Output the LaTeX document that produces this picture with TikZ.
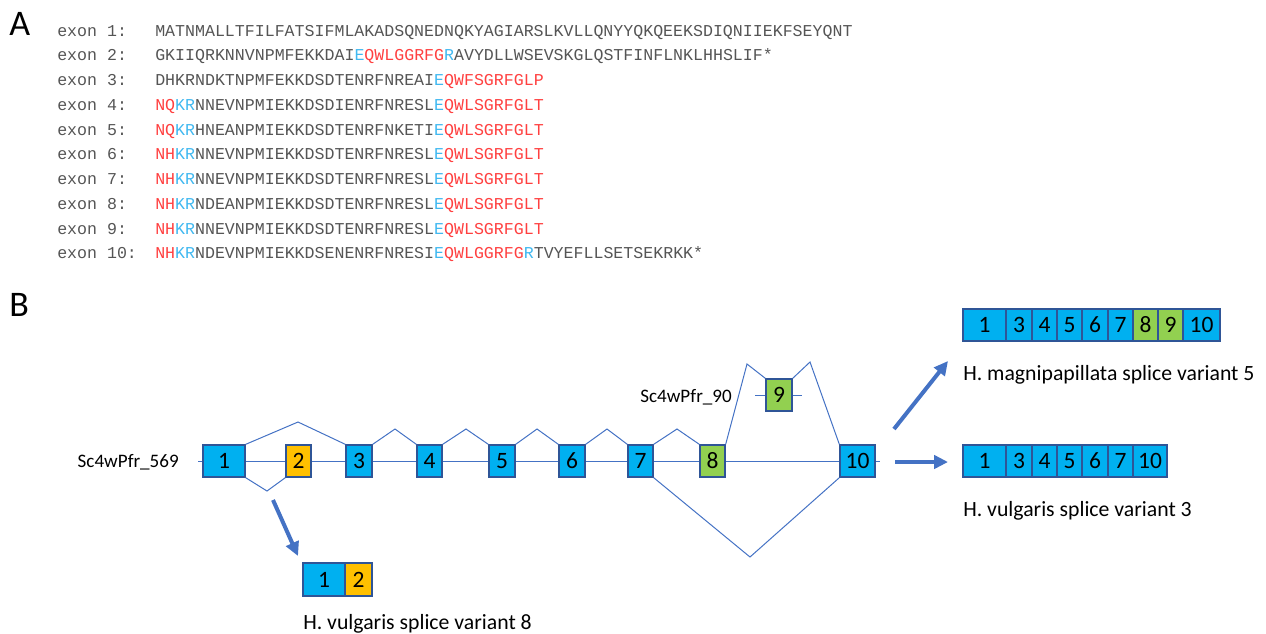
\documentclass[tikz,border=0pt]{standalone}
\usepackage{fontspec}
\setmainfont{Carlito}
\setmonofont{Liberation Mono}
\usetikzlibrary{arrows.meta}
\definecolor{seqgray}{HTML}{555555}
\definecolor{seqred}{HTML}{FF4040}
\definecolor{seqblue}{HTML}{40B8F0}
\definecolor{exblue}{HTML}{00B0F0}
\definecolor{exorange}{HTML}{FFC000}
\definecolor{exgreen}{HTML}{92D050}
\definecolor{exborder}{HTML}{2F5597}
\definecolor{linkblue}{HTML}{4472C4}
\newcommand\redseq[1]{\textcolor{seqred}{#1}}
\newcommand\blueseq[1]{\textcolor{seqblue}{#1}}
\newcommand\exbox[7]{\node[exon,fill=#6,minimum width={(#3-#2)*0.75pt},minimum height={(#5-#4)*0.75pt}] (#1) at ({(#2+#3)/2},{(#4+#5)/2}) {#7};}
\begin{document}
\begin{tikzpicture}[x=0.75pt,y=-0.75pt,
  seqlabel/.style={anchor=base west,inner sep=0pt,font=\ttfamily\fontsize{12.45}{14}\selectfont,text=seqgray},
  panel/.style={anchor=base west,inner sep=0pt,font=\fontsize{27}{30}\selectfont},
  exon/.style={draw=exborder,line width=1pt,inner sep=0pt,font=\fontsize{17.6}{20}\selectfont,text=black},
  caption/.style={anchor=base west,inner sep=0pt,font=\fontsize{16.3}{18}\selectfont},
  gene/.style={anchor=base east,inner sep=0pt,font=\fontsize{14.3}{16}\selectfont},
  intron/.style={draw=linkblue,line width=0.75pt},
  bigarrow/.style={draw=linkblue,line width=3pt,-{Triangle[length=10.5pt,width=10pt]}}]
\useasboundingbox (0,0) rectangle (1266,633);
% Panel A
\node[panel] (pA) at (9,35) {A};
\node[seqlabel] (l1) at (57,36) {exon 1:};
\node[seqlabel] (s1) at (155,36) {MATNMALLTFILFATSIFMLAKADSQNEDNQKYAGIARSLKVLLQNYYQKQEEKSDIQNIIEKFSEYQNT};
\node[seqlabel] (l2) at (57,60.75) {exon 2:};
\node[seqlabel] (s2) at (155,60.75) {GKIIQRKNNVNPMFEKKDAI\blueseq{E}\redseq{QWLGGRFG}\blueseq{R}AVYDLLWSEVSKGLQSTFINFLNKLHHSLIF*};
\node[seqlabel] (l3) at (57,85.5) {exon 3:};
\node[seqlabel] (s3) at (155,85.5) {DHKRNDKTNPMFEKKDSDTENRFNREAI\blueseq{E}\redseq{QWFSGRFGLP}};
\node[seqlabel] (l4) at (57,110.25) {exon 4:};
\node[seqlabel] (s4) at (155,110.25) {\redseq{NQ}\blueseq{KR}NNEVNPMIEKKDSDIENRFNRESL\blueseq{E}\redseq{QWLSGRFGLT}};
\node[seqlabel] (l5) at (57,135) {exon 5:};
\node[seqlabel] (s5) at (155,135) {\redseq{NQ}\blueseq{KR}HNEANPMIEKKDSDTENRFNKETI\blueseq{E}\redseq{QWLSGRFGLT}};
\node[seqlabel] (l6) at (57,159.75) {exon 6:};
\node[seqlabel] (s6) at (155,159.75) {\redseq{NH}\blueseq{KR}NNEVNPMIEKKDSDTENRFNRESL\blueseq{E}\redseq{QWLSGRFGLT}};
\node[seqlabel] (l7) at (57,184.5) {exon 7:};
\node[seqlabel] (s7) at (155,184.5) {\redseq{NH}\blueseq{KR}NNEVNPMIEKKDSDTENRFNRESL\blueseq{E}\redseq{QWLSGRFGLT}};
\node[seqlabel] (l8) at (57,209.25) {exon 8:};
\node[seqlabel] (s8) at (155,209.25) {\redseq{NH}\blueseq{KR}NDEANPMIEKKDSDTENRFNRESL\blueseq{E}\redseq{QWLSGRFGLT}};
\node[seqlabel] (l9) at (57,234) {exon 9:};
\node[seqlabel] (s9) at (155,234) {\redseq{NH}\blueseq{KR}NNEVNPMIEKKDSDTENRFNRESL\blueseq{E}\redseq{QWLSGRFGLT}};
\node[seqlabel] (l10) at (57,258.75) {exon 10:};
\node[seqlabel] (s10) at (155,258.75) {\redseq{NH}\blueseq{KR}NDEVNPMIEKKDSENENRFNRESI\blueseq{E}\redseq{QWLGGRFG}\blueseq{R}TVYEFLLSETSEKRKK*};
% Panel B
\node[panel] (pB) at (9,316) {B};
\coordinate (mainL) at (198,461);
\coordinate (mainR) at (880,461);
\coordinate (nineL) at (755,395);
\coordinate (nineR) at (802,395);
\draw[intron] (mainL) -- (mainR);
\draw[intron] (nineL) -- (nineR);
\node[gene] (g569) at (179,467) {Sc4wPfr\_569};
\node[gene] (g90) at (732,402) {Sc4wPfr\_90};
\exbox{b1}{203}{245}{445}{477}{exblue}{1}
\exbox{b2}{286}{311}{445}{477}{exorange}{2}
\exbox{b3}{346}{372}{445}{477}{exblue}{3}
\exbox{b4}{417}{442}{445}{477}{exblue}{4}
\exbox{b5}{489}{515}{445}{477}{exblue}{5}
\exbox{b6}{559}{585}{445}{477}{exblue}{6}
\exbox{b7}{628}{653}{445}{477}{exblue}{7}
\exbox{b8}{700}{725}{445}{477}{exgreen}{8}
\exbox{b9}{766}{792}{379}{411}{exgreen}{9}
\exbox{b10}{840}{875}{445}{477}{exblue}{10}
\draw[intron] (b1.north east) -- (298,422) -- (b3.north west);
\draw[intron] (b1.south east) -- (267,491) -- (b2.south west);
\draw[intron] (b3.north east) -- (395,429) -- (b4.north west);
\draw[intron] (b4.north east) -- (466,429) -- (b5.north west);
\draw[intron] (b5.north east) -- (537,429) -- (b6.north west);
\draw[intron] (b6.north east) -- (607,429) -- (b7.north west);
\draw[intron] (b7.north east) -- (677,429) -- (b8.north west);
\draw[intron] (b8.north east) -- (747,364) -- (b9.north west);
\draw[intron] (b9.north east) -- (810,362) -- (b10.north west);
\draw[intron] (b7.south east) -- (750,557) -- (b10.south west);
% arrows
\coordinate (a1s) at (273,500);
\coordinate (a1e) at (298,556);
\coordinate (a2s) at (895,462);
\coordinate (a2e) at (948,462);
\coordinate (a3s) at (894,429);
\coordinate (a3e) at (948,361);
\draw[bigarrow] (a1s) -- (a1e);
\draw[bigarrow] (a2s) -- (a2e);
\draw[bigarrow] (a3s) -- (a3e);
% variant 5
\exbox{m1}{963}{1006}{309}{341}{exblue}{1}
\exbox{m3}{1006}{1032}{309}{341}{exblue}{3}
\exbox{m4}{1032}{1057}{309}{341}{exblue}{4}
\exbox{m5}{1057}{1082}{309}{341}{exblue}{5}
\exbox{m6}{1082}{1108}{309}{341}{exblue}{6}
\exbox{m7}{1108}{1133}{309}{341}{exblue}{7}
\exbox{m8}{1133}{1158}{309}{341}{exgreen}{8}
\exbox{m9}{1158}{1183}{309}{341}{exgreen}{9}
\exbox{m10}{1183}{1220}{309}{341}{exblue}{10}
\node[caption] (cm) at (963,380) {H. magnipapillata splice variant 5};
% variant 3
\exbox{v1}{963}{1006}{445}{477}{exblue}{1}
\exbox{v3}{1006}{1032}{445}{477}{exblue}{3}
\exbox{v4}{1032}{1057}{445}{477}{exblue}{4}
\exbox{v5}{1057}{1082}{445}{477}{exblue}{5}
\exbox{v6}{1082}{1108}{445}{477}{exblue}{6}
\exbox{v7}{1108}{1133}{445}{477}{exblue}{7}
\exbox{v10}{1133}{1167}{445}{477}{exblue}{10}
\node[caption] (cv3) at (963,516) {H. vulgaris splice variant 3};
% variant 8
\exbox{w1}{303}{345}{563}{596}{exblue}{1}
\exbox{w2}{345}{372}{563}{596}{exorange}{2}
\node[caption] (cv8) at (303,629) {H. vulgaris splice variant 8};
\end{tikzpicture}
\end{document}
